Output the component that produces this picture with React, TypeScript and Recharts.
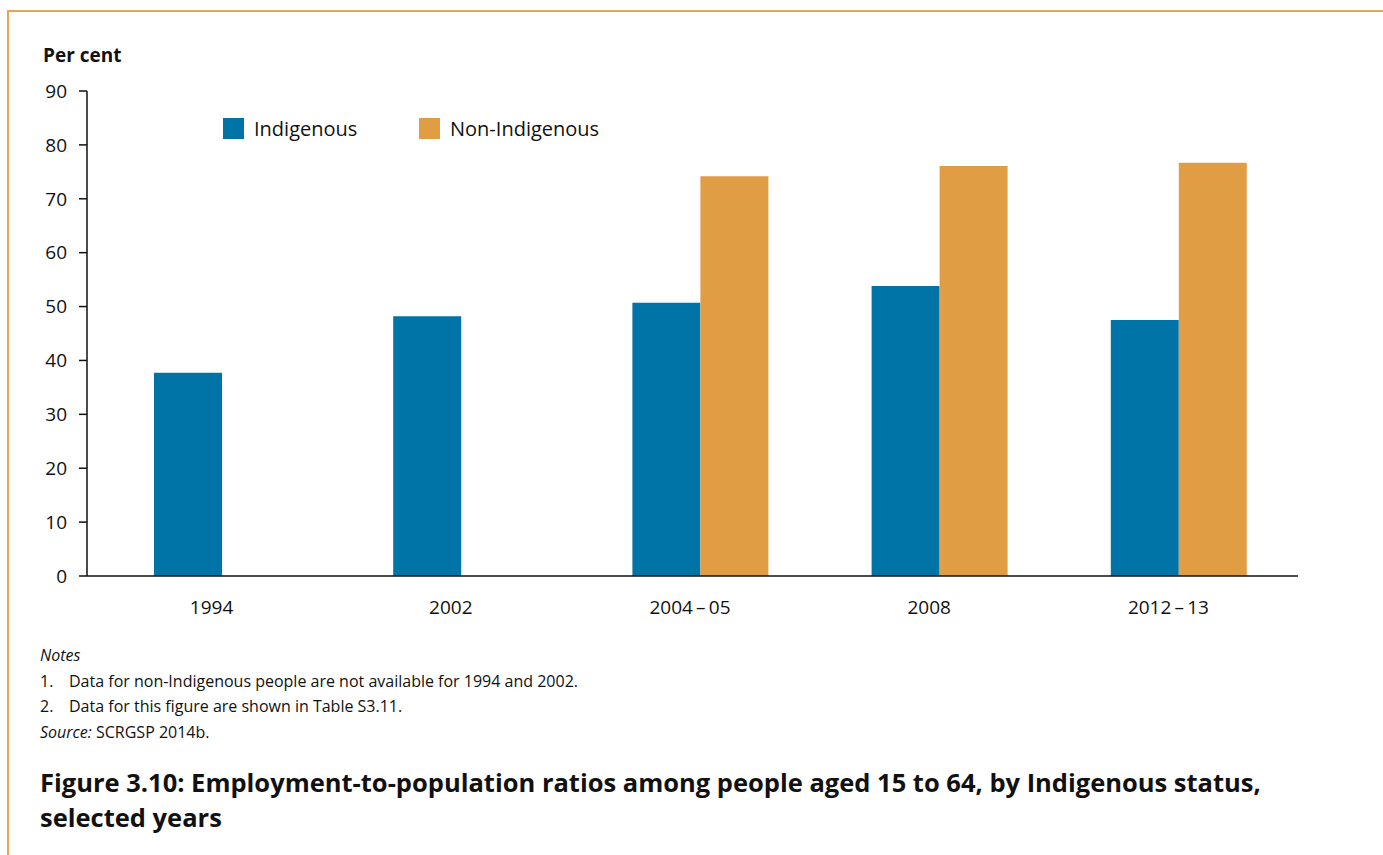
import { BarChart, Bar, XAxis, YAxis } from 'recharts';

const years = ['1994', '2002', '2004\u2009–\u200905', '2008', '2012\u2009–\u200913'];
const indigenous = [37.7, 48.2, 50.7, 53.8, 47.5];
const nonIndigenous = [null, null, 74.2, 76.1, 76.7];
const yTicks = [0, 10, 20, 30, 40, 50, 60, 70, 80, 90];

const data = years.map((year, i) => ({
  year,
  indigenous: indigenous[i],
  nonIndigenous: nonIndigenous[i],
}));

const BLUE = '#0073A7';
const ORANGE = '#E09D44';
const FONT = '"Open Sans", "Noto Sans", sans-serif';

function LegendBox() {
  const items = [
    { label: 'Indigenous', color: BLUE, width: 196 },
    { label: 'Non-Indigenous', color: ORANGE, width: 220 },
  ];
  return (
    <div style={{ display: 'flex', fontFamily: FONT, fontSize: 20, color: '#111' }}>
      {items.map((it) => (
        <div key={it.label} style={{ display: 'flex', alignItems: 'center', width: it.width }}>
          <span style={{ width: 21, height: 21, background: it.color, marginRight: 10, display: 'inline-block' }} />
          <span>{it.label}</span>
        </div>
      ))}
    </div>
  );
}

export default function App() {
  return (
    <div style={{ position: 'absolute', left: 0, top: 0, width: 1383, height: 855, background: '#fff', fontFamily: FONT, color: '#111' }}>
      <div style={{ position: 'absolute', left: 7, top: 10, width: 1376, height: 2, background: '#E4A555' }} />
      <div style={{ position: 'absolute', left: 7, top: 10, width: 2, height: 845, background: '#E4A555' }} />

      <div style={{ position: 'absolute', left: 43, top: 42, fontSize: 19, fontWeight: 700 }}>Per cent</div>

      <div style={{ position: 'absolute', left: 0, top: 0 }}>
        <BarChart
          width={1383}
          height={640}
          data={data}
          margin={{ top: 91, right: 85, left: 27, bottom: 24 }}
          barGap={0}
          barSize={68}
        >
          <XAxis
            dataKey="year"
            height={40}
            padding={{ left: 15, right: 0 }}
            tickLine={false}
            tickSize={0}
            tickMargin={25}
            axisLine={{ stroke: '#111', strokeWidth: 1.5 }}
            tick={{ fill: '#111', fontSize: 19, fontFamily: FONT, dx: -10 }}
          />
          <YAxis
            width={60}
            domain={[0, 90]}
            ticks={yTicks}
            interval={0}
            tickSize={8}
            tickMargin={12}
            axisLine={{ stroke: '#111', strokeWidth: 1.5 }}
            tickLine={{ stroke: '#111', strokeWidth: 1.5 }}
            tick={{ fill: '#111', fontSize: 19, fontFamily: FONT }}
          />
          <Bar dataKey="indigenous" name="Indigenous" fill={BLUE} isAnimationActive={false} />
          <Bar dataKey="nonIndigenous" name="Non-Indigenous" fill={ORANGE} isAnimationActive={false} />
        </BarChart>
      </div>

      <div style={{ position: 'absolute', left: 223, top: 115 }}>
        <LegendBox />
      </div>

      <div style={{ position: 'absolute', left: 40, top: 644, fontSize: 16, fontStyle: 'italic' }}>Notes</div>
      <div style={{ position: 'absolute', left: 40, top: 670, fontSize: 16 }}>
        <span style={{ display: 'inline-block', width: 29 }}>1.</span>Data for non-Indigenous people are not available for 1994 and 2002.
      </div>
      <div style={{ position: 'absolute', left: 40, top: 695, fontSize: 16 }}>
        <span style={{ display: 'inline-block', width: 29 }}>2.</span>Data for this figure are shown in Table S3.11.
      </div>
      <div style={{ position: 'absolute', left: 40, top: 721, fontSize: 16 }}>
        <i>Source:</i> SCRGSP 2014b.
      </div>

      <div style={{ position: 'absolute', left: 40, top: 765, width: 1340, fontSize: 25.5, fontWeight: 700, lineHeight: '35px' }}>
        Figure 3.10: Employment-to-population ratios among people aged 15 to 64, by Indigenous status,
        <br />
        selected years
      </div>
    </div>
  );
}
